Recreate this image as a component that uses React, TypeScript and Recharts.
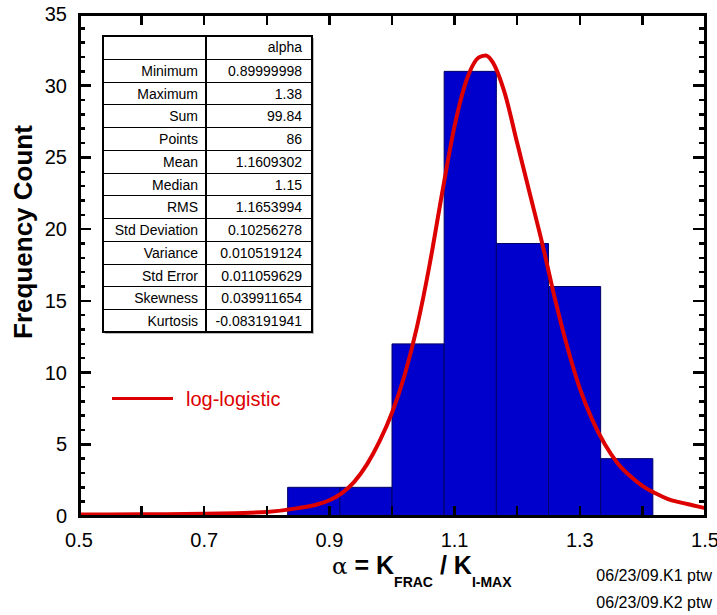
import { ComposedChart, Line, XAxis, YAxis, ReferenceArea } from 'recharts'

// histogram bins (edges) and counts
const binEdges = [0.8333, 0.9167, 1.0, 1.0833, 1.1667, 1.25, 1.3333, 1.4167]
const binCounts = [2, 2, 12, 31, 19, 16, 4]

// fitted log-logistic curve
const curveX = [0.5, 0.6, 0.7, 0.75, 0.8, 0.85, 0.88, 0.9, 0.92, 0.94, 0.96, 0.98, 1.0, 1.02, 1.04, 1.06, 1.08, 1.1, 1.12, 1.14, 1.15, 1.16, 1.18, 1.2, 1.22, 1.24, 1.26, 1.28, 1.3, 1.32, 1.34, 1.36, 1.38, 1.4, 1.42, 1.44, 1.46, 1.48, 1.5]
const curveY = [0.1, 0.12, 0.15, 0.2, 0.28, 0.55, 0.8, 1.1, 1.6, 2.4, 3.6, 5.2, 7.2, 9.8, 13.2, 17.5, 22.5, 27.2, 30.5, 32.0, 32.1, 31.7, 29.5, 26.0, 22.5, 19.0, 15.2, 11.8, 8.9, 6.7, 5.0, 3.7, 2.8, 2.1, 1.6, 1.2, 0.95, 0.75, 0.55]

const xTicks = [0.5, 0.6, 0.7, 0.8, 0.9, 1.0, 1.1, 1.2, 1.3, 1.4, 1.5]
const xLabelTicks = [0.5, 0.7, 0.9, 1.1, 1.3, 1.5]
const yTicks = Array.from({ length: 36 }, (_, i) => i)
const yLabelTicks = [0, 5, 10, 15, 20, 25, 30, 35]

// statistics table
const statHeader = ['', 'alpha']
const statLabels = ['Minimum', 'Maximum', 'Sum', 'Points', 'Mean', 'Median', 'RMS', 'Std Deviation', 'Variance', 'Std Error', 'Skewness', 'Kurtosis']
const statValues = ['0.89999998', '1.38', '99.84', '86', '1.1609302', '1.15', '1.1653994', '0.10256278', '0.010519124', '0.011059629', '0.039911654', '-0.083191941']

const notes = ['06/23/09.K1 ptw', '06/23/09.K2 ptw']

const FONT = '"Liberation Sans", Arial, sans-serif'
const PLOT = { left: 79, right: 705, top: 14, bottom: 516 }
const X_DOMAIN = [0.5, 1.5]
const Y_DOMAIN = [0, 35]
const RED = '#dd0000'

const curveData = curveX.map((x, i) => ({ x, y: curveY[i] }))
const bins = binCounts.map((c, i) => ({ x1: binEdges[i], x2: binEdges[i + 1], count: c }))

// pixel position of an axis value, same box as the chart's plot area (used for the frame's tick marks)
const xPx = (v: number) => PLOT.left + ((v - X_DOMAIN[0]) / (X_DOMAIN[1] - X_DOMAIN[0])) * (PLOT.right - PLOT.left)
const yPx = (v: number) => PLOT.bottom - ((v - Y_DOMAIN[0]) / (Y_DOMAIN[1] - Y_DOMAIN[0])) * (PLOT.bottom - PLOT.top)

function XTick(props: any) {
  const { x, payload } = props
  const v = payload.value
  const labeled = xLabelTicks.some((t) => Math.abs(t - v) < 1e-6)
  if (!labeled) return <g />
  return (
    <text x={x} y={PLOT.bottom + 31} textAnchor="middle" fontFamily={FONT} fontSize={20} fill="#000">
      {v.toFixed(1)}
    </text>
  )
}

function YTick(props: any) {
  const { y, payload } = props
  const v = payload.value
  if (!yLabelTicks.includes(v)) return <g />
  return (
    <text x={PLOT.left - 12} y={y + 7} textAnchor="end" fontFamily={FONT} fontSize={20} fill="#000">
      {v}
    </text>
  )
}

const topFor = (baseline: number, size: number) => baseline - 0.8465 * size

function Frame() {
  const mark = (key: string, left: number, top: number, width: number, height: number) => (
    <div key={key} style={{ position: 'absolute', left, top, width, height, background: '#000' }} />
  )
  return (
    <>
      <div
        style={{
          position: 'absolute', left: PLOT.left - 1.5, top: PLOT.top - 1.5,
          width: PLOT.right - PLOT.left + 3, height: PLOT.bottom - PLOT.top + 3,
          border: '3px solid #000', boxSizing: 'border-box',
        }}
      />
      {xTicks.map((v) => [
        mark(`xb${v}`, xPx(v) - 1.25, PLOT.bottom - 10, 2.5, 10),
        mark(`xt${v}`, xPx(v) - 1.25, PLOT.top, 2.5, 11),
      ])}
      {yTicks.map((v) => {
        const len = yLabelTicks.includes(v) ? 12 : 6
        return [
          mark(`yl${v}`, PLOT.left, yPx(v) - 1.25, len, 2.5),
          mark(`yr${v}`, PLOT.right - len, yPx(v) - 1.25, len, 2.5),
        ]
      })}
    </>
  )
}

function StatsTable() {
  const rowH = 22.77
  const rows = [statHeader, ...statLabels.map((l, i) => [l, statValues[i]])]
  const w = 209
  const h = rows.length * rowH
  return (
    <div
      style={{
        position: 'absolute', left: 103, top: 36, width: w, height: h,
        background: '#fff', boxShadow: '2px 2px 0 #bbb', fontFamily: FONT, fontSize: 14, color: '#000',
      }}
    >
      {rows.map((r, i) => (
        <div
          key={i}
          style={{
            position: 'absolute', left: 0, top: i * rowH, width: w, height: rowH, lineHeight: `${rowH}px`,
            borderTop: i > 0 ? '1.5px solid #000' : 'none', boxSizing: 'border-box',
          }}
        >
          <div style={{ position: 'absolute', left: 0, width: 95, textAlign: 'right', whiteSpace: 'nowrap' }}>{r[0]}</div>
          <div style={{ position: 'absolute', left: 103, width: 96, textAlign: 'right', whiteSpace: 'nowrap' }}>{r[1]}</div>
        </div>
      ))}
      <div style={{ position: 'absolute', left: 102.25, top: 0, width: 1.5, height: h, background: '#000' }} />
      <div style={{ position: 'absolute', left: -1, top: -1, width: w + 2, height: h + 2, border: '2px solid #000', boxSizing: 'border-box' }} />
    </div>
  )
}

export default function App() {
  return (
    <div style={{ position: 'absolute', left: 0, top: 0, width: 717, height: 615, background: '#fff', fontFamily: FONT }}>
      <ComposedChart width={717} height={615} data={curveData} margin={{ top: 14, right: 12, bottom: 0, left: 0 }}>
        <XAxis
          dataKey="x"
          type="number"
          domain={X_DOMAIN}
          ticks={xTicks}
          interval={0}
          height={99}
          axisLine={false}
          tickLine={false}
          tickSize={0}
          tickMargin={0}
          tick={<XTick />}
        />
        <YAxis
          type="number"
          domain={Y_DOMAIN}
          ticks={yTicks}
          interval={0}
          width={79}
          axisLine={false}
          tickLine={false}
          tickSize={0}
          tickMargin={0}
          tick={<YTick />}
        />
        {bins.map((b, i) => (
          <ReferenceArea key={i} x1={b.x1} x2={b.x2} y1={0} y2={b.count} fill="#0000cc" fillOpacity={1} stroke="#000066" strokeWidth={1} />
        ))}
        <Line dataKey="y" type="monotone" stroke={RED} strokeWidth={4} dot={false} activeDot={false} isAnimationActive={false} />
      </ComposedChart>
      <Frame />
      <StatsTable />
      <div style={{ position: 'absolute', left: 112, top: 396.5, width: 61, height: 3, background: RED }} />
      <div style={{ position: 'absolute', left: 186, top: topFor(406, 20), fontSize: 20, lineHeight: 1, color: RED, whiteSpace: 'nowrap' }}>
        log-logistic
      </div>
      <div
        style={{
          position: 'absolute', left: 23 - 150, top: 232 - 13, width: 300, height: 26, lineHeight: 1,
          fontSize: 26, fontWeight: 'bold', textAlign: 'center', transform: 'rotate(-90deg)', whiteSpace: 'nowrap',
        }}
      >
        Frequency Count
      </div>
      <div
        style={{
          position: 'absolute', left: 332, top: topFor(574, 25), fontSize: 25, lineHeight: 1, fontWeight: 'bold', whiteSpace: 'pre',
        }}
      >
        <span style={{ fontFamily: "'DejaVu Serif', serif", fontWeight: 'normal', fontSize: 23 }}>α</span>
        <span> = K</span>
        <span style={{ fontSize: 14, position: 'relative', top: 13 }}>FRAC</span>
        <span> / K</span>
        <span style={{ fontSize: 14, position: 'relative', top: 13 }}>I-MAX</span>
      </div>
      {notes.map((n, i) => (
        <div
          key={i}
          style={{ position: 'absolute', right: 5, top: topFor(582 + i * 27, 16), fontSize: 16, lineHeight: 1, whiteSpace: 'nowrap' }}
        >
          {n}
        </div>
      ))}
    </div>
  )
}
